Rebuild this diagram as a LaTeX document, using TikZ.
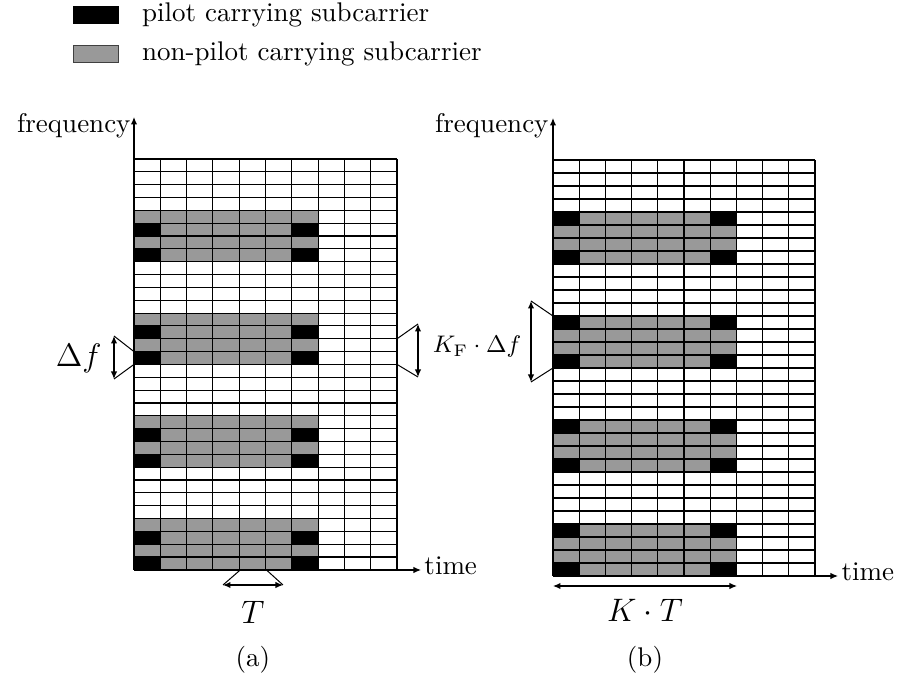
\documentclass[tikz,border=0pt]{standalone}
\usepackage{fix-cm}
\usetikzlibrary{arrows.meta,positioning}
\definecolor{cdata}{HTML}{999999}
\definecolor{cpilot}{HTML}{000000}
\tikzset{
  gridline/.style={line width=0.45pt, draw=black},
  pilotc/.style={fill=cpilot},
  datac/.style={fill=cdata},
  axis/.style={line width=0.5pt, -{Latex[length=3pt,width=2.6pt]}},
  dim/.style={line width=0.5pt, {Latex[length=3pt,width=2.6pt]}-{Latex[length=3pt,width=2.6pt]}},
  fan/.style={line width=0.4pt},
  keybox/.style={draw, line width=0.5pt, minimum width=18pt, minimum height=6.6pt, inner sep=0pt},
  keytxt/.style={font=\fontsize{10.8}{13}\selectfont, inner sep=0pt, anchor=west},
  axlbl/.style={font=\fontsize{10.8}{13}\selectfont, inner sep=0pt},
  mlbl/.style={font=\fontsize{13}{15}\selectfont, inner sep=0pt},
  klbl/.style={font=\fontsize{9.6}{12}\selectfont, inner sep=0pt},
}
\begin{document}
\begin{tikzpicture}[x=0.4pt,y=-0.4pt]
\useasboundingbox (0,0) rectangle (903,679);
% legend
\node[keybox, fill=cpilot] (kpilot) at (96,15) {};
\node[keybox, fill=cdata, draw=black!75] (kdata) at (96,54) {};
\node[keytxt, right=9pt of kpilot] (tpilot) {pilot carrying subcarrier};
\node[keytxt, right=9pt of kdata] (tdata) {non-pilot carrying subcarrier};

% (a) grid
\begin{scope}[shift={(134,159)}, xscale=26.3, yscale=12.84]
  \foreach \b in {4,12,20,28} {
    \fill[datac] (0,\b) rectangle (7,\b+4);
    \fill[pilotc] (0,\b+1) rectangle (1,\b+2);
    \fill[pilotc] (6,\b+1) rectangle (7,\b+2);
    \fill[pilotc] (0,\b+3) rectangle (1,\b+4);
    \fill[pilotc] (6,\b+3) rectangle (7,\b+4);
  }
  \foreach \c in {0,...,10} \draw[gridline] (\c,0) -- (\c,32);
  \foreach \r in {0,...,32} \draw[gridline] (0,\r) -- (10,\r);
\end{scope}
\coordinate (lo) at (134,570);
\coordinate (lf) at (134,117);
\coordinate (lt) at (421,570);
\draw[axis] (lo) -- (lf);
\draw[axis] (lo) -- (lt);
\node[axlbl, anchor=base east] (lfreq) at (131,133) {frequency};
\node[axlbl, anchor=base west] (ltime) at (424,575) {time};
% delta f
\coordinate (dfa) at (134,351.6);
\coordinate (dfb) at (134,364.4);
\coordinate (dfu) at (114,336);
\coordinate (dfd) at (114,379);
\draw[fan] (dfa) -- (dfu);
\draw[fan] (dfb) -- (dfd);
\draw[dim] (dfu) -- (dfd);
\node[mlbl, anchor=east] (dflbl) at (102,358) {$\Delta f$};
% T
\coordinate (ta) at (240.2,570);
\coordinate (tb) at (266.5,570);
\coordinate (tl) at (223,585);
\coordinate (tr) at (283,585);
\draw[fan] (ta) -- (tl);
\draw[fan] (tb) -- (tr);
\draw[dim] (tl) -- (tr);
\node[mlbl] (tlbl) at (253,612) {$T$};
\node[axlbl] (capa) at (253,660) {(a)};
% K_F delta f, left grid
\coordinate (kfa) at (397,338.8);
\coordinate (kfb) at (397,364.4);
\coordinate (kfu) at (418,324);
\coordinate (kfd) at (418,377);
\draw[fan] (kfa) -- (kfu);
\draw[fan] (kfb) -- (kfd);
\draw[dim] (kfu) -- (kfd);

% (b) grid
\begin{scope}[shift={(553,160)}, xscale=26.2, yscale=13]
  \foreach \b in {4,12,20,28} {
    \fill[datac] (0,\b) rectangle (7,\b+4);
    \fill[pilotc] (0,\b) rectangle (1,\b+1);
    \fill[pilotc] (6,\b) rectangle (7,\b+1);
    \fill[pilotc] (0,\b+3) rectangle (1,\b+4);
    \fill[pilotc] (6,\b+3) rectangle (7,\b+4);
  }
  \foreach \c in {0,...,10} \draw[gridline] (\c,0) -- (\c,32);
  \foreach \r in {0,...,32} \draw[gridline] (0,\r) -- (10,\r);
\end{scope}
\coordinate (ro) at (553,576);
\coordinate (rf) at (553,118);
\coordinate (rt) at (838,576);
\draw[axis] (ro) -- (rf);
\draw[axis] (ro) -- (rt);
\node[axlbl, anchor=base east] (rfreq) at (549,133) {frequency};
\node[axlbl, anchor=base west] (rtime) at (841,581) {time};
% K_F delta f, right grid
\coordinate (kga) at (553,316);
\coordinate (kgb) at (553,368);
\coordinate (kgu) at (531,301);
\coordinate (kgd) at (531,382);
\draw[fan] (kga) -- (kgu);
\draw[fan] (kgb) -- (kgd);
\draw[dim] (kgu) -- (kgd);
\node[klbl] (kflbl) at (477,347) {$K_{\mathrm{F}}\cdot\Delta f$};
% K T
\coordinate (kta) at (553,586);
\coordinate (ktb) at (737,586);
\draw[dim] (kta) -- (ktb);
\node[mlbl] (ktlbl) at (645,610) {$K\cdot T$};
\node[axlbl] (capb) at (645,660) {(b)};
\end{tikzpicture}
\end{document}
